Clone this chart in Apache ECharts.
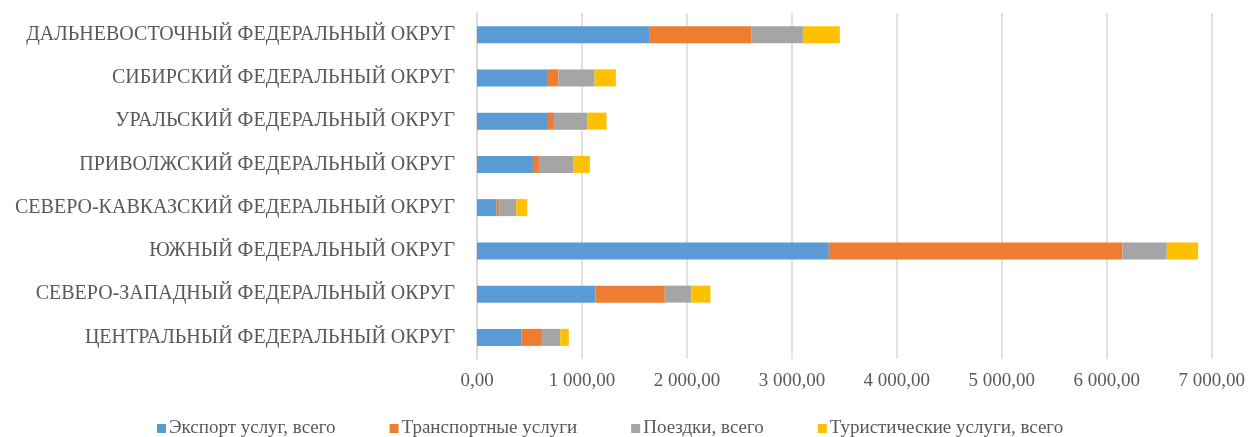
<!DOCTYPE html>
<html>
<head>
<meta charset="utf-8">
<script src="https://cdn.jsdelivr.net/npm/echarts@6/dist/echarts.min.js"></script>
<style>
  html, body { margin: 0; padding: 0; background: #fff; }
  #chart { width: 1248px; height: 437px; }
</style>
</head>
<body>
<div id="chart"></div>
<script>
// категории снизу вверх (как в Excel)
var regions = [
    'ЦЕНТРАЛЬНЫЙ ФЕДЕРАЛЬНЫЙ ОКРУГ',
    'СЕВЕРО-ЗАПАДНЫЙ ФЕДЕРАЛЬНЫЙ ОКРУГ',
    'ЮЖНЫЙ ФЕДЕРАЛЬНЫЙ ОКРУГ',
    'СЕВЕРО-КАВКАЗСКИЙ ФЕДЕРАЛЬНЫЙ ОКРУГ',
    'ПРИВОЛЖСКИЙ ФЕДЕРАЛЬНЫЙ ОКРУГ',
    'УРАЛЬСКИЙ ФЕДЕРАЛЬНЫЙ ОКРУГ',
    'СИБИРСКИЙ ФЕДЕРАЛЬНЫЙ ОКРУГ',
    'ДАЛЬНЕВОСТОЧНЫЙ ФЕДЕРАЛЬНЫЙ ОКРУГ'
];
var seriesNames = ['Экспорт услуг, всего', 'Транспортные услуги', 'Поездки, всего', 'Туристические услуги, всего'];
var exportTotal = [425, 1129, 3352, 187, 533, 676, 666, 1646];
var transport   = [193, 660, 2797, 29, 57, 57, 111, 971];
var trips       = [175, 254, 423, 158, 330, 317, 343, 488];
var tourism     = [82, 181, 298, 105, 155, 184, 203, 352];
var colors = ['#5b9bd5', '#ed7d31', '#a5a5a5', '#ffc000'];

var FONT = '"Liberation Serif", "DejaVu Serif", serif';
var TEXT = '#595959';

function fmt(v) {
    var s = v.toFixed(2).split('.');
    return s[0].replace(/\B(?=(\d{3})+(?!\d))/g, ' ') + ',' + s[1];
}

var values = [exportTotal, transport, trips, tourism];
var series = [];
for (var i = 0; i < seriesNames.length; i++) {
    series.push({
        name: seriesNames[i],
        type: 'bar',
        stack: 'total',
        barWidth: 17,
        itemStyle: { color: colors[i] },
        data: values[i]
    });
}

var myChart = echarts.init(document.getElementById('chart'), null, { renderer: 'canvas' });
myChart.setOption({
    animation: false,
    textStyle: { fontFamily: FONT },
    grid: { left: 477, right: 35, top: 13, bottom: 78, containLabel: false },
    legend: {
        data: seriesNames,
        left: 152,
        top: 414,
        icon: 'rect',
        itemWidth: 9,
        itemHeight: 9,
        itemGap: 54,
        textStyle: { fontFamily: FONT, fontSize: 19, color: TEXT, padding: [0, 0, 0, -2] }
    },
    xAxis: {
        type: 'value',
        min: 0,
        max: 7000,
        interval: 1000,
        axisLine: { show: false },
        axisTick: { show: false },
        splitLine: { lineStyle: { color: '#d9d9d9', width: 1.5 } },
        axisLabel: {
            formatter: fmt,
            fontFamily: FONT,
            fontSize: 19,
            color: TEXT,
            margin: 13
        }
    },
    yAxis: {
        type: 'category',
        data: regions,
        axisLine: { lineStyle: { color: '#d9d9d9', width: 1.5 } },
        axisTick: { show: false },
        axisLabel: {
            fontFamily: FONT,
            fontSize: 20,
            color: TEXT,
            margin: 22
        }
    },
    series: series
});
</script>
</body>
</html>
